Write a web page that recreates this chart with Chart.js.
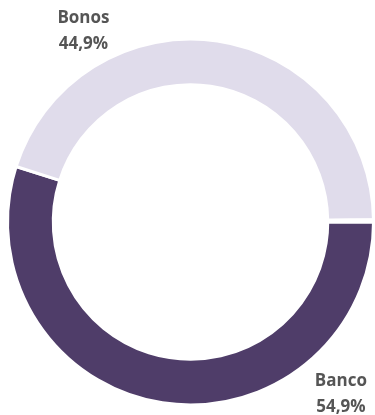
<!DOCTYPE html>
<html>
<head>
<meta charset="utf-8">
<script src="https://cdn.jsdelivr.net/npm/chart.js@4"></script>
<style>
    html, body { margin: 0; padding: 0; background: #fff; }
    #wrap { width: 375px; height: 415px; position: relative; }
</style>
</head>
<body>
<div id="wrap"><canvas id="donutChart"></canvas></div>
<script>
// Data
const categories = ['Banco', 'Bonos', 'Otros'];
const shares = [54.9, 44.9, 0.2];
const colors = ['#4F3D69', '#E0DCEB', '#FFFFFF'];
// which slices get a text label, and where (as a fraction of the outer radius from the centre)
const labelled = ['Banco', 'Bonos'];
const labelSpots = { Banco: [0.822, 0.895], Bonos: [-0.585, -1.088] };

const fmt = v => v.toFixed(1).replace('.', ',') + '%';

const sliceLabels = {
    id: 'sliceLabels',
    afterDraw(chart) {
        const ctx = chart.ctx;
        const arc = chart.getDatasetMeta(0).data[0];
        const cx = arc.x, cy = arc.y, r = arc.outerRadius;
        ctx.save();
        ctx.font = 'bold 17px "Open Sans"';
        ctx.fillStyle = '#555555';
        ctx.textAlign = 'center';
        ctx.textBaseline = 'alphabetic';
        labelled.forEach(name => {
            const i = categories.indexOf(name);
            const [fx, fy] = labelSpots[name];
            const x = cx + fx * r, y = cy + fy * r;
            ctx.fillText(name, x, y);
            ctx.fillText(fmt(shares[i]), x, y + 26);
        });
        ctx.restore();
    }
};

new Chart(document.getElementById('donutChart'), {
    type: 'doughnut',
    data: {
        labels: categories,
        datasets: [{
            data: shares,
            backgroundColor: colors,
            borderColor: '#FFFFFF',
            borderWidth: 3,
            hoverOffset: 0
        }]
    },
    options: {
        responsive: true,
        maintainAspectRatio: false,
        animation: false,
        rotation: 90,
        cutout: '75%',
        layout: { padding: { left: 6, right: 0, top: 37.5, bottom: 8.5 } },
        plugins: {
            legend: { display: false },
            tooltip: { enabled: false }
        }
    },
    plugins: [sliceLabels]
});
</script>
</body>
</html>
